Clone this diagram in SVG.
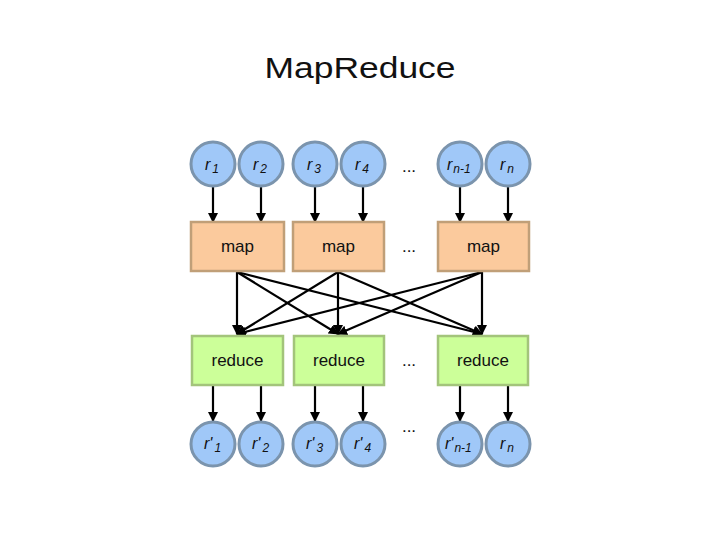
<svg xmlns="http://www.w3.org/2000/svg" width="720" height="540" viewBox="0 0 720 540">
<style>
.c{fill:#a0c8f8;stroke:#7b94ad;stroke-width:3}
.m{fill:#fbca9d;stroke:#c09f78;stroke-width:2.5}
.rd{fill:#ccff99;stroke:#a3c47b;stroke-width:2.5}
.t{font-family:"Liberation Sans",Arial,sans-serif;fill:#111}
.lab{font-size:17px;text-anchor:middle}
.r{font-size:16px;font-style:italic}
.sub{font-size:12px}
.e{stroke:#000;stroke-width:2.2;fill:none;marker-end:url(#ah)}
</style>
<defs>
<marker id="ah" markerWidth="10" markerHeight="10" refX="9" refY="5" orient="auto" markerUnits="userSpaceOnUse">
<path d="M0,0 L10,5 L0,10 Z" fill="#000"/>
</marker>
</defs>
<rect width="720" height="540" fill="#fff"/>
<text class="t" x="360" y="78" font-size="30" text-anchor="middle" textLength="191" lengthAdjust="spacingAndGlyphs">MapReduce</text>

<g id="connectors">
<line class="e" x1="213" y1="187" x2="213" y2="222"/>
<line class="e" x1="261" y1="187" x2="261" y2="222"/>
<line class="e" x1="315" y1="187" x2="315" y2="222"/>
<line class="e" x1="363" y1="187" x2="363" y2="222"/>
<line class="e" x1="460" y1="187" x2="460" y2="222"/>
<line class="e" x1="508" y1="187" x2="508" y2="222"/>

<line class="e" x1="237" y1="272" x2="237" y2="334"/>
<line class="e" x1="237" y1="272" x2="338" y2="334"/>
<line class="e" x1="237" y1="272" x2="482" y2="334"/>
<line class="e" x1="338" y1="272" x2="237" y2="334"/>
<line class="e" x1="338" y1="272" x2="338" y2="334"/>
<line class="e" x1="338" y1="272" x2="482" y2="334"/>
<line class="e" x1="482" y1="272" x2="237" y2="334"/>
<line class="e" x1="482" y1="272" x2="338" y2="334"/>
<line class="e" x1="482" y1="272" x2="482" y2="334"/>

<line class="e" x1="213" y1="386" x2="213" y2="421"/>
<line class="e" x1="261" y1="386" x2="261" y2="421"/>
<line class="e" x1="315" y1="386" x2="315" y2="421"/>
<line class="e" x1="363" y1="386" x2="363" y2="421"/>
<line class="e" x1="460" y1="386" x2="460" y2="421"/>
<line class="e" x1="508" y1="386" x2="508" y2="421"/>
</g>

<g id="r1"><circle class="c" cx="213" cy="164" r="22"/><text class="t r" x="205" y="170">r<tspan class="sub" dx="2" dy="3">1</tspan></text></g>
<g id="r2"><circle class="c" cx="261" cy="164" r="22"/><text class="t r" x="253" y="170">r<tspan class="sub" dx="2" dy="3">2</tspan></text></g>
<g id="r3"><circle class="c" cx="315" cy="164" r="22"/><text class="t r" x="307" y="170">r<tspan class="sub" dx="2" dy="3">3</tspan></text></g>
<g id="r4"><circle class="c" cx="363" cy="164" r="22"/><text class="t r" x="355" y="170">r<tspan class="sub" dx="2" dy="3">4</tspan></text></g>
<g id="rn1"><circle class="c" cx="460" cy="164" r="22"/><text class="t r" x="447" y="170">r<tspan class="sub" dx="1" dy="3">n-1</tspan></text></g>
<g id="rn"><circle class="c" cx="508" cy="164" r="22"/><text class="t r" x="500" y="170">r<tspan class="sub" dx="2" dy="3">n</tspan></text></g>
<text class="t lab" x="409" y="172">...</text>

<g id="map1"><rect class="m" x="191" y="222" width="93" height="49"/><text class="t lab" x="237.5" y="252">map</text></g>
<g id="map2"><rect class="m" x="293" y="222" width="91" height="49"/><text class="t lab" x="338.5" y="252">map</text></g>
<g id="map3"><rect class="m" x="438" y="222" width="91" height="49"/><text class="t lab" x="483.5" y="252">map</text></g>
<text class="t lab" x="409" y="252">...</text>

<g id="reduce1"><rect class="rd" x="192" y="336" width="91" height="49"/><text class="t lab" x="237.5" y="366">reduce</text></g>
<g id="reduce2"><rect class="rd" x="294" y="336" width="90" height="49"/><text class="t lab" x="339" y="366">reduce</text></g>
<g id="reduce3"><rect class="rd" x="438" y="336" width="90" height="49"/><text class="t lab" x="483" y="366">reduce</text></g>
<text class="t lab" x="409" y="366">...</text>

<g id="o1"><circle class="c" cx="213" cy="444" r="22"/><text class="t r" x="204" y="449">r'<tspan class="sub" dx="2" dy="3">1</tspan></text></g>
<g id="o2"><circle class="c" cx="261" cy="444" r="22"/><text class="t r" x="252" y="449">r'<tspan class="sub" dx="2" dy="3">2</tspan></text></g>
<g id="o3"><circle class="c" cx="315" cy="444" r="22"/><text class="t r" x="306" y="449">r'<tspan class="sub" dx="2" dy="3">3</tspan></text></g>
<g id="o4"><circle class="c" cx="363" cy="444" r="22"/><text class="t r" x="354" y="449">r'<tspan class="sub" dx="2" dy="3">4</tspan></text></g>
<g id="on1"><circle class="c" cx="460" cy="444" r="22"/><text class="t r" x="445" y="449">r'<tspan class="sub" dx="1" dy="3">n-1</tspan></text></g>
<g id="on"><circle class="c" cx="508" cy="444" r="22"/><text class="t r" x="500" y="449">r<tspan class="sub" dx="2" dy="3">n</tspan></text></g>
<text class="t lab" x="409" y="432">...</text>
</svg>
